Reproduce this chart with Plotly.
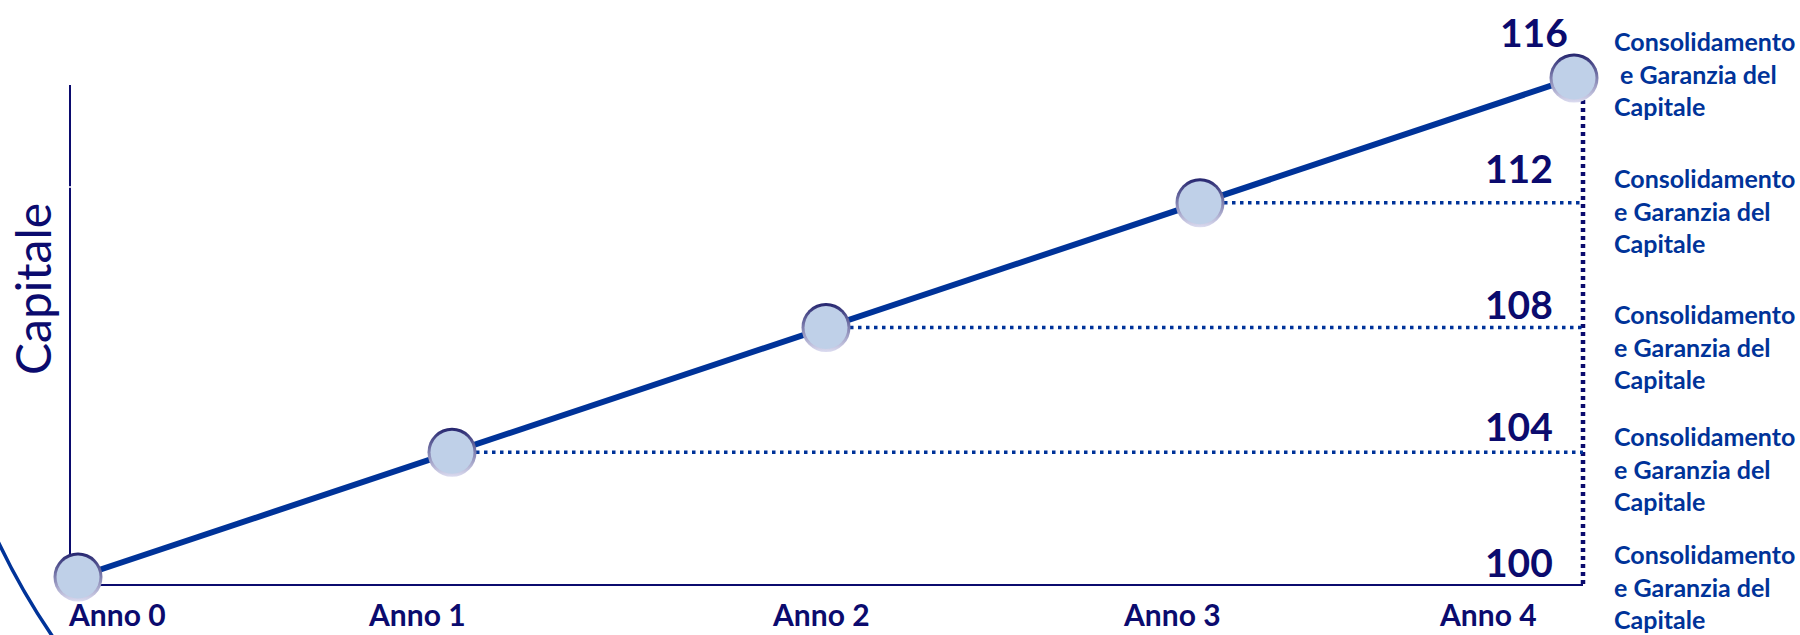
import plotly.graph_objects as go

# ---------------- data ----------------
years = [0, 1, 2, 3, 4]
year_labels = ["Anno 0", "Anno 1", "Anno 2", "Anno 3", "Anno 4"]
capitale = [100, 104, 108, 112, 116]
value_labels = ["100", "104", "108", "112", "116"]
note_first = ["Consolidamento", "e Garanzia del", "Capitale"]
note_last = ["Consolidamento", "\u00a0e Garanzia del", "Capitale"]
axis_title = "Capitale"

# ---------------- layout geometry (pixels) ----------------
W, H = 1800, 635
L, R, T, B = 70, 1583, 0, 584           # plot area edges
AXIS_TOP = 85                            # visible top of the vertical axis line
PX0, PX4 = 78, 1574                      # pixel x of first / last year
PY_LO, PY_HI = 577, 78                   # pixel y of lowest / highest value

xs = (PX4 - PX0) / (years[-1] - years[0])
xmin = years[0] - (PX0 - L) / xs
xmax = years[-1] + (R - PX4) / xs
ys = (PY_LO - PY_HI) / (capitale[-1] - capitale[0])
ymin = capitale[0] - (B - PY_LO) / ys
ymax = capitale[-1] + (PY_HI - T) / ys


def pxx(px):
    return (px - L) / (R - L)


def pxy(py):
    return (B - py) / (B - T)


NAVY = "#0B0B6E"
BLUE = "#003399"
FONT = "Lato"

fig = go.Figure()

# main line
fig.add_trace(go.Scatter(
    x=years, y=capitale, mode="lines",
    line=dict(color=BLUE, width=6),
    cliponaxis=False, hoverinfo="skip", showlegend=False))

# marker rim (vertical gradient: dark top, light bottom)
fig.add_trace(go.Scatter(
    x=years, y=capitale, mode="markers",
    marker=dict(size=49, color="#24246E",
                gradient=dict(type="vertical", color="#DCDCF0"),
                line=dict(width=0)),
    cliponaxis=False, hoverinfo="skip", showlegend=False))

# marker face
fig.add_trace(go.Scatter(
    x=years, y=capitale, mode="markers",
    marker=dict(size=43, color="#BFD0E8", line=dict(width=0)),
    cliponaxis=False, showlegend=False))

shapes = []
# vertical axis line (starts below the top of the plot area)
shapes.append(dict(type="line", xref="paper", yref="paper",
                   x0=0, x1=0, y0=0, y1=pxy(AXIS_TOP),
                   line=dict(color=NAVY, width=2), layer="below"))
# horizontal dotted guides from markers to the right border
for xv, yv in zip(years[1:-1], capitale[1:-1]):
    shapes.append(dict(type="line", xref="x", yref="y",
                       x0=xv, x1=xmax, y0=yv, y1=yv,
                       line=dict(color=BLUE, width=3.5, dash="3.5px,4.5px"),
                       layer="below"))
# vertical dotted guide
shapes.append(dict(type="line", xref="paper", yref="y",
                   x0=1, x1=1, y0=ymin, y1=capitale[-1],
                   line=dict(color=NAVY, width=4.5, dash="4px,4px"),
                   layer="below"))
# small break in the vertical axis
shapes.append(dict(type="line", xref="paper", yref="paper",
                   x0=pxx(67), x1=pxx(73), y0=pxy(187), y1=pxy(187),
                   line=dict(color="white", width=1.5), layer="above"))
# decorative arc bottom-left
arc = "M {},{} C {},{} {},{} {},{}".format(
    pxx(-9), pxy(526), pxx(10.7), pxy(570.6), pxx(35), pxy(612.7),
    pxx(63.5), pxy(652))
shapes.append(dict(type="path", xref="paper", yref="paper", path=arc,
                   line=dict(color=BLUE, width=3.5), layer="above"))

annotations = []
# year labels
year_xshift = [39, -35, -5, -28, -86]
for xv, lab, dx in zip(years, year_labels, year_xshift):
    annotations.append(dict(x=xv, xref="x", y=0, yref="paper",
                            text="<b>" + lab + "</b>", showarrow=False,
                            xanchor="center", yanchor="middle",
                            xshift=dx, yshift=-30,
                            font=dict(family=FONT, size=30, color=NAVY)))
# value labels
val_yshift = [15, 26, 24, 35, 46]
val_xshift = [-28, -28, -28, -28, -13]
for yv, lab, dy, dx in zip(capitale, value_labels, val_yshift, val_xshift):
    annotations.append(dict(x=1, xref="paper", y=yv, yref="y",
                            text="<b>" + lab + "</b>", showarrow=False,
                            xanchor="right", yanchor="middle",
                            xshift=dx, yshift=dy,
                            font=dict(family=FONT, size=39, color=NAVY)))
# side notes
note_yshift = [-9, -16, -19, -8, 5]
for i, (yv, dy) in enumerate(zip(capitale, note_yshift)):
    lines = note_last if i == len(capitale) - 1 else note_first
    annotations.append(dict(x=1, xref="paper", y=yv, yref="y",
                            text="<b>" + "<br>".join(lines) + "</b>",
                            showarrow=False, align="left",
                            xanchor="left", yanchor="middle",
                            xshift=29, yshift=dy,
                            font=dict(family=FONT, size=25, color=BLUE)))
# axis title
annotations.append(dict(x=0, xref="paper", y=pxy(289), yref="paper",
                        text=axis_title, showarrow=False, textangle=-90,
                        xanchor="center", yanchor="middle", xshift=-38,
                        font=dict(family=FONT, size=48, color=NAVY)))

fig.update_layout(
    width=W, height=H,
    margin=dict(l=L, r=W - R, t=T, b=H - B, pad=0),
    paper_bgcolor="white", plot_bgcolor="white",
    showlegend=False,
    shapes=shapes, annotations=annotations,
    xaxis=dict(range=[xmin, xmax], showgrid=False, zeroline=False,
               showticklabels=False, ticks="", showline=True,
               linecolor=NAVY, linewidth=2, layer="below traces",
               fixedrange=True),
    yaxis=dict(range=[ymin, ymax], showgrid=False, zeroline=False,
               showticklabels=False, ticks="", showline=False,
               layer="below traces", fixedrange=True),
)

fig.write_html("out.html", config={"displayModeBar": False},
               post_script="document.body.style.margin='0';")
